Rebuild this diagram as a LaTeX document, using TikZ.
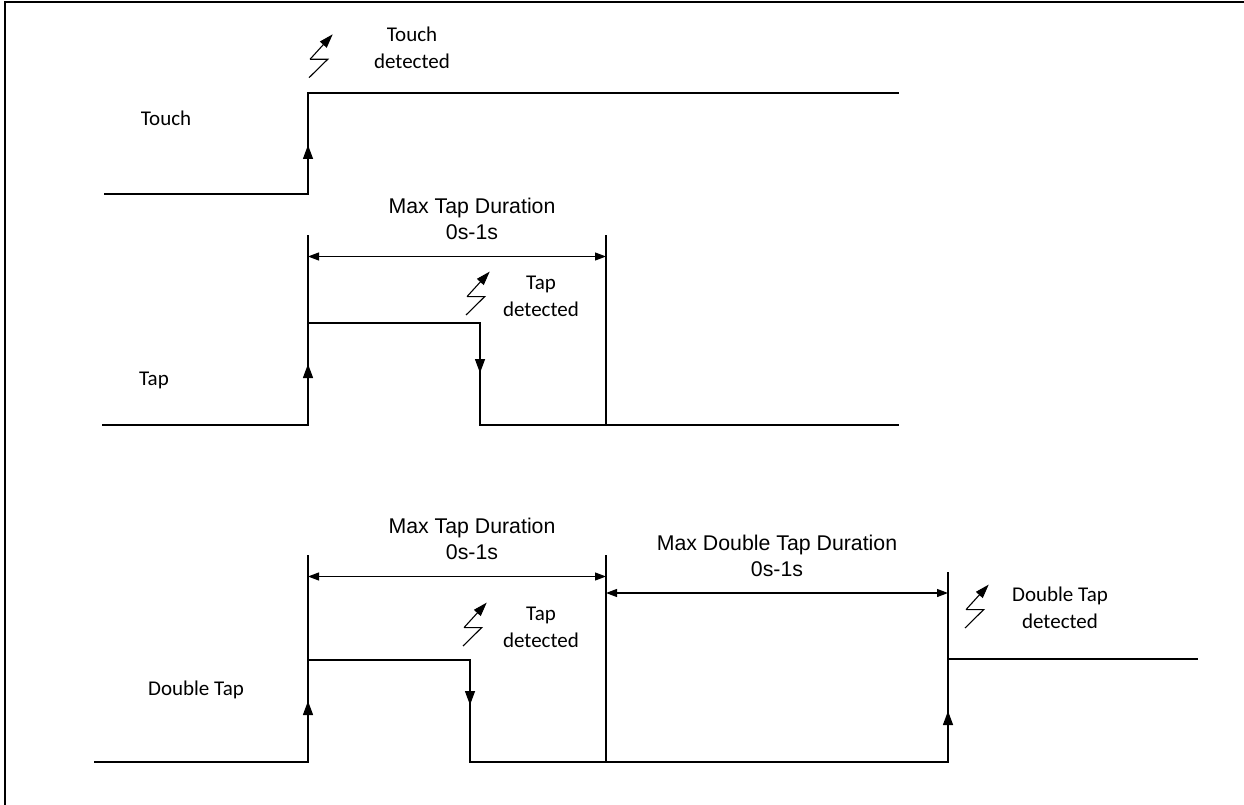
\documentclass[tikz,border=0pt]{standalone}
\usepackage{fontspec}
\setmainfont{Carlito}
\newfontfamily\arialf{Liberation Sans}
\usetikzlibrary{arrows.meta}
\begin{document}
\begin{tikzpicture}[x=1pt,y=-1pt,
  sig/.style={line width=1.3pt,line cap=rect},
  edgemark/.style={line width=1.3pt,-{Triangle[length=14pt,width=10pt]}},
  dimln/.style={line width=1.1pt,{Triangle[length=11pt,width=8pt]}-{Triangle[length=11pt,width=8pt]}},
  ext/.style={line width=1.1pt},
  lbl/.style={inner sep=0pt,font=\fontsize{21}{26}\selectfont},
  dimlbl/.style={inner sep=0pt,align=center,font=\arialf\fontsize{21.3}{26}\selectfont},
  detlbl/.style={inner sep=0pt,align=center,font=\fontsize{21}{27}\selectfont},
  bolt/.pic={
    \draw[line width=1.1pt] (0,0) -- (18.7,-18.4) -- (1,-18.4);
    \draw[line width=1.1pt,-{Triangle[length=14pt,width=9pt]}] (1,-18.4) -- (23.7,-43.4);
  }]
\useasboundingbox (0,0) rectangle (1244,805);
% frame (top and left only)
\draw[line width=2.5pt] (5,805) -- (5,2) -- (1244,2);

% ---------------- Touch ----------------
\node[lbl] (ltouch) at (166,118) {Touch};
\coordinate (t0) at (105,194);
\coordinate (t1) at (308,194);
\coordinate (t2) at (308,93);
\coordinate (t3) at (898,93);
\draw[sig] (t0) -- (t1) -- (t2) -- (t3);
\coordinate (ta1) at (308,160);
\coordinate (ta2) at (308,145);
\draw[edgemark] (ta1) -- (ta2);
\pic at (309,77.7) {bolt};
\node[detlbl] (dtouch) at (412,48) {Touch\\detected};

% ---------------- Tap ----------------
\node[lbl] (ltap) at (154,380) {Tap};
\coordinate (p0) at (103,425);
\coordinate (p1) at (308,425);
\coordinate (p2) at (308,323);
\coordinate (p3) at (480,323);
\coordinate (p4) at (480,425);
\coordinate (p5) at (898,425);
\draw[sig] (p0) -- (p1) -- (p2) -- (p3) -- (p4) -- (p5);
\coordinate (pa1) at (308,379);
\coordinate (pa2) at (308,364);
\draw[edgemark] (pa1) -- (pa2);
\coordinate (pb1) at (480,358);
\coordinate (pb2) at (480,373);
\draw[edgemark] (pb1) -- (pb2);
% dimension
\coordinate (pe1) at (308,235);
\coordinate (pe2) at (606,235);
\coordinate (pe3) at (606,425);
\draw[ext] (pe1) -- (p2);
\draw[ext] (pe2) -- (pe3);
\coordinate (pd1) at (308,256.5);
\coordinate (pd2) at (606,256.5);
\draw[dimln] (pd1) -- (pd2);
\node[dimlbl] (dimtap) at (472,219) {Max Tap Duration\\0s-1s};
\pic at (466,315) {bolt};
\node[detlbl] (dtap) at (541,296.5) {Tap\\detected};

% ---------------- Double Tap ----------------
\node[lbl] (ldbl) at (196,690) {Double Tap};
\coordinate (d0) at (95,762);
\coordinate (d1) at (308,762);
\coordinate (d2) at (308,660);
\coordinate (d3) at (470,660);
\coordinate (d4) at (470,762);
\coordinate (d5) at (948,762);
\coordinate (d6) at (948,659);
\coordinate (d7) at (1197,659);
\draw[sig] (d0) -- (d1) -- (d2) -- (d3) -- (d4) -- (d5) -- (d6) -- (d7);
\coordinate (da1) at (308,716);
\coordinate (da2) at (308,701);
\draw[edgemark] (da1) -- (da2);
\coordinate (db1) at (470,690);
\coordinate (db2) at (470,705);
\draw[edgemark] (db1) -- (db2);
\coordinate (dc1) at (948,726);
\coordinate (dc2) at (948,711);
\draw[edgemark] (dc1) -- (dc2);
% dimension 1
\coordinate (de1) at (308,555);
\coordinate (de2) at (606,555);
\coordinate (de3) at (606,762);
\draw[ext] (de1) -- (d2);
\draw[ext] (de2) -- (de3);
\coordinate (dd1) at (308,576.5);
\coordinate (dd2) at (606,576.5);
\draw[dimln] (dd1) -- (dd2);
\node[dimlbl] (dimtap2) at (472,539) {Max Tap Duration\\0s-1s};
% dimension 2
\coordinate (df1) at (948,572);
\draw[ext] (df1) -- (d6);
\coordinate (dg1) at (606,593);
\coordinate (dg2) at (948,593);
\draw[dimln] (dg1) -- (dg2);
\node[dimlbl] (dimdbl) at (777,556) {Max Double Tap Duration\\0s-1s};
\pic at (463,646) {bolt};
\node[detlbl] (dtap2) at (541,627.5) {Tap\\detected};
\pic at (965,628) {bolt};
\node[detlbl] (ddbl) at (1060,608) {Double Tap\\detected};
\end{tikzpicture}
\end{document}
